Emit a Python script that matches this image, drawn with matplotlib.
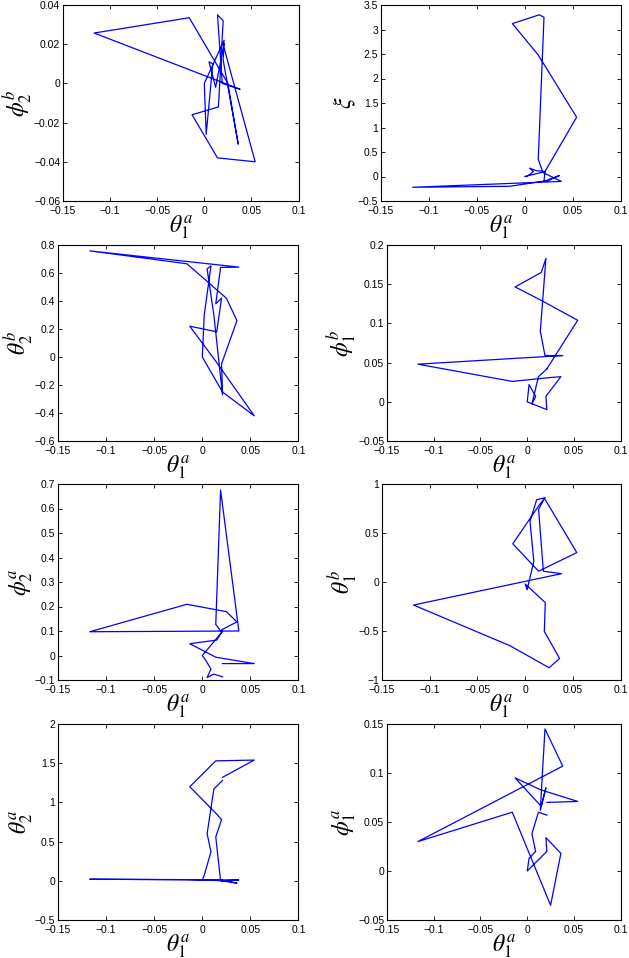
import matplotlib
matplotlib.use('Agg')
import matplotlib.pyplot as plt
import numpy as np

plt.rcParams['mathtext.fontset'] = 'stix'
plt.rcParams['font.family'] = ['Liberation Sans', 'DejaVu Sans']

# shared horizontal coordinate (theta_1^a), one entry per time step
theta1a = [0.021, 0.054, 0.014, -0.013, 0.015, 0.020, 0.014, 0.019, 0.038, -0.117,
           -0.016, 0.025, 0.036, 0.020, 0.021, 0.000, 0.002, 0.009, 0.005, 0.012, 0.021]

phi2b = [0.018, -0.040, -0.038, -0.016, -0.012, 0.032, 0.035, 0.000, -0.003, 0.0257,
         0.0335, 0.000, -0.031, 0.012, 0.022, 0.000, -0.026, 0.010, 0.011, -0.002, 0.020]
xi = [0.10, 1.21, 2.48, 3.12, 3.30, 3.25, 0.35, 0.08, -0.10, -0.22,
      -0.20, -0.08, 0.02, -0.10, 0.10, 0.00, 0.00, 0.10, 0.17, 0.12, 0.10]
theta2b = [-0.25, -0.42, -0.03, 0.22, 0.18, 0.42, 0.38, 0.64, 0.642, 0.758,
           0.666, 0.42, 0.26, -0.05, -0.25, 0.00, 0.30, 0.65, 0.63, 0.30, -0.27]
phi1b = [0.042, 0.104, 0.130, 0.1465, 0.165, 0.183, 0.090, 0.059, 0.059, 0.048,
         0.026, 0.031, 0.032, 0.007, -0.010, 0.000, 0.022, 0.007, -0.003, 0.032, 0.042]
phi2a = [-0.033, -0.033, -0.007, 0.048, 0.063, 0.095, 0.127, 0.675, 0.100, 0.097,
         0.209, 0.179, 0.137, 0.105, 0.098, 0.000, -0.010, -0.055, -0.090, -0.076, -0.087]
theta1b = [0.84, 0.30, 0.11, 0.39, 0.79, 0.85, 0.74, 0.11, 0.085, -0.235,
           -0.65, -0.875, -0.78, -0.505, -0.21, -0.02, -0.08, 0.21, 0.62, 0.84, 0.86]
theta2a = [1.32, 1.54, 1.53, 1.20, 0.85, 0.78, 0.56, 0.00, 0.01, 0.02,
           0.015, 0.00, -0.03, 0.00, 0.01, 0.01, 0.07, 0.37, 0.60, 1.17, 1.28]
phi1a = [0.070, 0.071, 0.083, 0.095, 0.066, 0.085, 0.062, 0.145, 0.107, 0.030,
         0.060, -0.035, 0.018, 0.034, 0.020, 0.000, 0.013, 0.020, 0.038, 0.060, 0.057]

xticks = [-0.15, -0.1, -0.05, 0, 0.05, 0.1]

# (series, y label, y ticks) in reading order: row by row, left then right
panels = [
    (phi2b, r'$\phi_2^b$', [-0.06, -0.04, -0.02, 0, 0.02, 0.04]),
    (xi, r'$\xi$', [-0.5, 0, 0.5, 1, 1.5, 2, 2.5, 3, 3.5]),
    (theta2b, r'$\theta_2^b$', [-0.6, -0.4, -0.2, 0, 0.2, 0.4, 0.6, 0.8]),
    (phi1b, r'$\phi_1^b$', [-0.05, 0, 0.05, 0.1, 0.15, 0.2]),
    (phi2a, r'$\phi_2^a$', [-0.1, 0, 0.1, 0.2, 0.3, 0.4, 0.5, 0.6, 0.7]),
    (theta1b, r'$\theta_1^b$', [-1, -0.5, 0, 0.5, 1]),
    (theta2a, r'$\theta_2^a$', [-0.5, 0, 0.5, 1, 1.5, 2]),
    (phi1a, r'$\phi_1^a$', [-0.05, 0, 0.05, 0.1, 0.15]),
]

W, H = 629, 958
fig = plt.figure(figsize=(W / 100, H / 100), dpi=100)

# left edges in pixels per row, right edges fixed per column (MATLAB-like)
lefts = [[63, 381], [58, 387], [58, 382], [58, 387]]
rights = [298.5, 620.7]
row_top = [5, 245, 484, 724]
ax_h = 196


def fmt(v):
    s = '%g' % v
    return s.replace('-', '\u2212')


for idx, (yvals, ylab, yt) in enumerate(panels):
    r, c = idx // 2, idx % 2
    left = lefts[r][c]
    width = rights[c] - left
    ax = fig.add_axes([left / W, 1 - (row_top[r] + ax_h) / H, width / W, ax_h / H])
    ax.plot(theta1a, yvals, color='#0000ff', lw=0.9)
    ax.set_xlim(-0.15, 0.1)
    ax.set_ylim(yt[0], yt[-1])
    ax.set_xticks(xticks)
    ax.set_xticklabels([fmt(v) for v in xticks])
    ax.set_yticks(yt)
    ax.set_yticklabels([fmt(v) for v in yt])
    ax.tick_params(direction='in', top=True, right=True, labelsize=7.5,
                   length=3, width=0.6)
    ax.tick_params(axis='x', pad=3.5)
    ax.tick_params(axis='y', pad=2)
    for sp in ax.spines.values():
        sp.set_linewidth(0.8)
    ax.set_xlabel(r'$\theta_1^a$', fontsize=17, labelpad=-2)
    ax.set_ylabel(ylab, fontsize=17, labelpad=0)

fig.savefig('out.png', dpi=100)
plt.close(fig)
